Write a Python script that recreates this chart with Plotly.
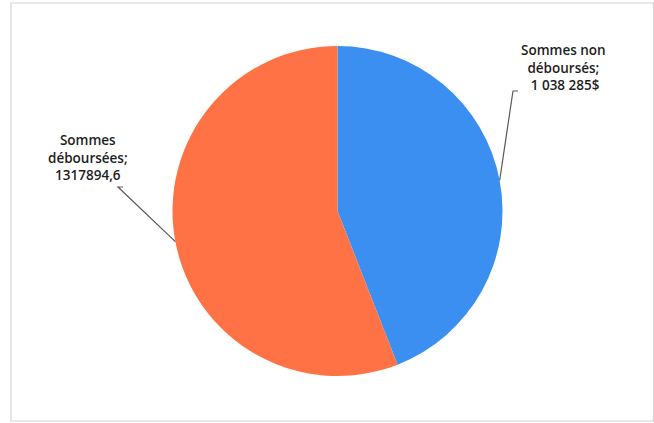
import math
import plotly.graph_objects as go

# ---- data ----
labels = ["Sommes non déboursés", "Sommes déboursées"]
values = [1038285, 1317894.6]
label_texts = ["Sommes non<br>déboursés;<br> 1 038 285$", "Sommes<br>déboursées;<br>1317894,6"]
colors = ["#3A8FF0", "#FF7245"]

W, H = 654, 423
cx, cy, r = 337.5, 211.0, 165.0  # pixel geometry of the pie


def px(x):
    return x / W


def py(y):
    return 1 - y / H


fig = go.Figure(
    go.Pie(
        labels=labels,
        values=values,
        sort=False,
        direction="clockwise",
        rotation=0,
        marker=dict(colors=colors, line=dict(width=0)),
        textinfo="none",
        hoverinfo="label+value",
        showlegend=False,
        domain=dict(x=[px(cx - r), px(cx + r)], y=[py(cy + r), py(cy - r)]),
    )
)

# leader-line tips at each slice's mid angle (computed from the data)
total = sum(values)
tips = []
acc = 0.0
for v in values:
    mid = (acc + v / 2) / total * 2 * math.pi
    acc += v
    tips.append((cx + r * math.sin(mid), cy - r * math.cos(mid)))

# label placement (layout)
label_pos = [(563, 67), (88, 157)]
line_starts = [[(518, 91), (513, 91)], [(123, 187), (118, 187)]]

shapes = [
    dict(type="rect", xref="paper", yref="paper",
         x0=px(11), y0=py(421), x1=px(653.5), y1=py(3),
         line=dict(color="#d4d4d4", width=1.2), fillcolor="rgba(0,0,0,0)"),
]
for (tx, ty), seg in zip(tips, line_starts):
    pts = seg + [(tx, ty)]
    path = "M " + " L ".join(f"{px(a)},{py(b)}" for a, b in pts)
    shapes.append(dict(type="path", xref="paper", yref="paper", path=path,
                       line=dict(color="#5a5a5a", width=1.2)))

annotations = []
for txt, (lx, ly) in zip(label_texts, label_pos):
    annotations.append(dict(
        x=px(lx), y=py(ly), xref="paper", yref="paper",
        text=txt, showarrow=False, xanchor="center", yanchor="middle",
        align="center",
        font=dict(family="Open Sans", size=13.5, color="#1e1e1e", weight=600),
    ))

fig.update_layout(
    width=W, height=H,
    margin=dict(l=0, r=0, t=0, b=0),
    paper_bgcolor="white",
    plot_bgcolor="white",
    shapes=shapes,
    annotations=annotations,
)

fig.write_html("out.html", config={"displayModeBar": False},
               post_script="document.body.style.margin='0';")
